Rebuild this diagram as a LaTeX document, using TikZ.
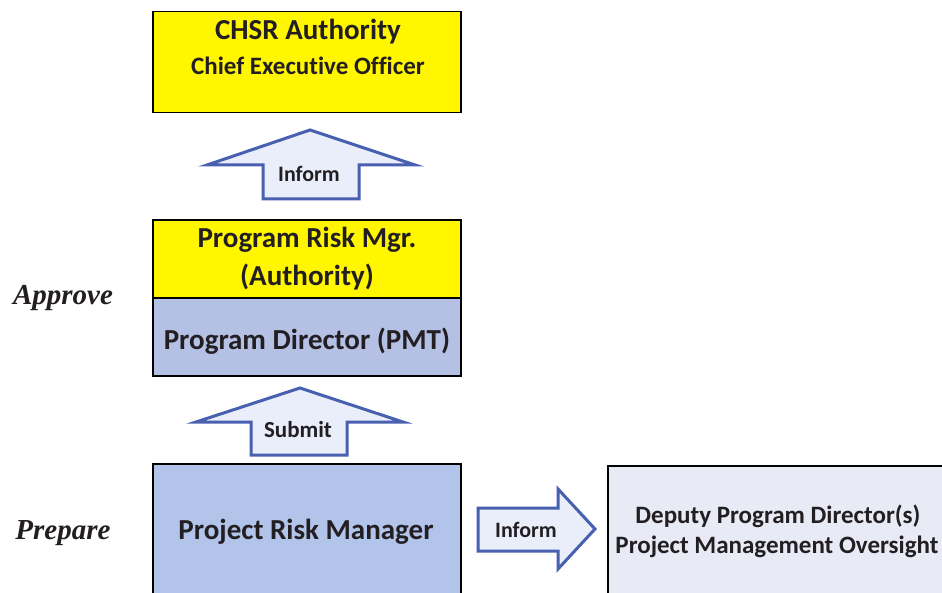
\documentclass[tikz,border=0pt]{standalone}
\usepackage{fontspec}
\setmainfont{Carlito}[Ligatures=NoCommon]
\newfontfamily\stagefont{Liberation Serif}

\definecolor{boxyellow}{RGB}{255,246,0}
\definecolor{boxblue}{RGB}{178,196,234}
\definecolor{pmtblue}{RGB}{180,192,228}
\definecolor{boxpale}{RGB}{232,234,246}
\definecolor{arrowblue}{RGB}{72,96,176}
\definecolor{arrowfill}{RGB}{234,238,250}
\definecolor{inkdark}{RGB}{34,30,34}

\begin{document}
\begin{tikzpicture}[x=1pt,y=1pt]
\tikzstyle{every node}+=[inner sep=0pt, text=inkdark]
\tikzstyle{orgbox}=[draw=black, line width=1.8pt, minimum width=308pt]
\tikzstyle{blockarrow}=[draw=arrowblue, fill=arrowfill, line width=3pt, line join=miter]
\tikzstyle{stage}=[anchor=base, font=\stagefont\bfseries\itshape\fontsize{29}{34}\selectfont]
\clip (0,0) rectangle (942,-593);
\fill [white] (0,0) rectangle (942,-593);

% top level
\node [orgbox, fill=boxyellow, minimum height=101pt] (chsr) at (307,-62) {};
\node [anchor=base, font=\bfseries\fontsize{29}{34}\selectfont] (chsrname) at (308,-40) {CHSR Authority};
\node [anchor=base, font=\bfseries\fontsize{25}{30}\selectfont] (ceo) at (308,-75) {Chief Executive Officer};

% inform (up)
\draw [blockarrow] (263,-199) -- (263,-165) -- (207,-165) -- (310,-130) -- (415,-165) -- (359,-165) -- (359,-199) -- cycle;
\node [anchor=base, font=\bfseries\fontsize{22}{26}\selectfont] (informup) at (309,-182) {Inform};

% approve level
\node [orgbox, fill=boxyellow, minimum height=78pt] (prm) at (307,-259) {};
\node [orgbox, fill=pmtblue, minimum height=78pt] (pd) at (307,-337) {};
\node [anchor=base, font=\bfseries\fontsize{29}{34}\selectfont] (prmname) at (307,-248) {Program Risk Mgr.};
\node [anchor=base, font=\bfseries\fontsize{29}{34}\selectfont] (prmauth) at (307,-286) {(Authority)};
\node [anchor=base, font=\bfseries\fontsize{29}{34}\selectfont] (pdname) at (307,-350) {Program Director (PMT)};
\node [stage] (approve) at (63,-305) {Approve};

% submit (up)
\draw [blockarrow] (251,-455) -- (251,-422) -- (196,-422) -- (300,-388) -- (403,-422) -- (347,-422) -- (347,-455) -- cycle;
\node [anchor=base, font=\bfseries\fontsize{23}{27}\selectfont] (submit) at (298,-437) {Submit};

% prepare level
\node [orgbox, fill=boxblue, minimum height=146pt] (prjrm) at (307,-537) {};
\node [anchor=base, font=\bfseries\fontsize{29}{34}\selectfont] (prjname) at (306,-539) {Project Risk Manager};
\node [stage] (prepare) at (63,-539) {Prepare};

% inform (right)
\draw [blockarrow] (478,-508) -- (558,-508) -- (558,-489) -- (595,-529) -- (558,-569) -- (558,-551) -- (478,-551) -- cycle;
\node [anchor=base, font=\bfseries\fontsize{22}{26}\selectfont] (informright) at (526,-537) {Inform};

\node [orgbox, fill=boxpale, minimum width=350pt, minimum height=146pt, anchor=north west] (dpd) at (607,-465) {};
\node [anchor=base, font=\bfseries\fontsize{25}{30}\selectfont] (dpdname) at (778,-523) {Deputy Program Director(s)};
\node [anchor=base, font=\bfseries\fontsize{25}{30}\selectfont] (pmo) at (777,-553) {Project Management Oversight};
\end{tikzpicture}
\end{document}
